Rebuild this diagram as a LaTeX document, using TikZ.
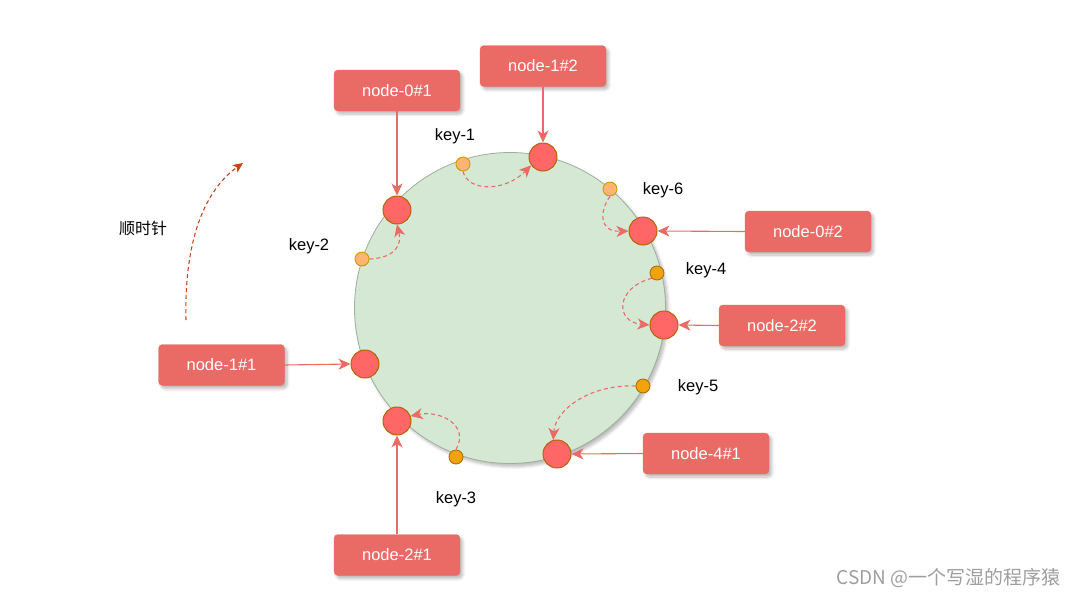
\documentclass[tikz,border=0pt]{standalone}
\usepackage{fontspec}
\setmainfont{Liberation Sans}
\newfontfamily\cjk{Noto Sans CJK SC}
\usetikzlibrary{arrows.meta,shadows.blur}
\definecolor{boxred}{HTML}{EA6B66}
\definecolor{ringfill}{HTML}{D5E8D4}
\definecolor{ringline}{HTML}{9DAE9B}
\definecolor{vnfill}{HTML}{FF6666}
\definecolor{vnline}{HTML}{B46504}
\definecolor{klight}{HTML}{FFB570}
\definecolor{klightline}{HTML}{C8A000}
\definecolor{kdark}{HTML}{F0A30A}
\definecolor{kdarkline}{HTML}{B07000}
\definecolor{cwcol}{HTML}{C9441A}
\tikzset{
  shad/.style={blur shadow={shadow xshift=2.5pt,shadow yshift=-3pt,shadow blur steps=6,shadow opacity=28,shadow blur radius=3pt}},
  hostbox/.style={draw=boxred,fill=boxred,rounded corners=4pt,minimum width=126pt,minimum height=41pt,text=white,font=\fontsize{16.5}{18}\selectfont,inner sep=0pt,shad},
  vnode/.style={circle,draw=vnline,fill=vnfill,line width=1pt,minimum size=28pt,inner sep=0pt},
  keyl/.style={circle,draw=klightline,fill=klight,line width=0.9pt,minimum size=14pt,inner sep=0pt},
  keyd/.style={circle,draw=kdarkline,fill=kdark,line width=0.9pt,minimum size=14pt,inner sep=0pt},
  klabel/.style={font=\fontsize{16.5}{18}\selectfont,text=black},
  solidarr/.style={draw=boxred,line width=1.1pt,-{Stealth[length=12pt,width=11pt,inset=3.5pt]}},
  dasharr/.style={draw=boxred,line width=1.1pt,dash pattern=on 4pt off 3pt,-{Stealth[length=12pt,width=11pt,inset=3.5pt]}},
}
\begin{document}
\begin{tikzpicture}[x=1pt,y=-1pt]
\useasboundingbox (0,0) rectangle (1080,598);
% ring
\node[circle,draw=ringline,fill=ringfill,line width=0.8pt,minimum size=311pt,inner sep=0pt,shad] (ring) at (510,308) {};
% host boxes
\node[hostbox] (n01) at (397,90.5) {node-0\#1};
\node[hostbox] (n12) at (543,66) {node-1\#2};
\node[hostbox] (n02) at (808,231.5) {node-0\#2};
\node[hostbox] (n22) at (782,325.5) {node-2\#2};
\node[hostbox] (n11) at (221.5,365) {node-1\#1};
\node[hostbox] (n41) at (706,453.5) {node-4\#1};
\node[hostbox] (n21) at (397,555) {node-2\#1};
% virtual nodes
\node[vnode] (c01) at (397,210) {};
\node[vnode] (c12) at (543,157) {};
\node[vnode] (c02) at (643,231) {};
\node[vnode] (c22) at (664,325) {};
\node[vnode] (c11) at (365,364) {};
\node[vnode] (c21) at (397,421) {};
\node[vnode] (c41) at (557,454) {};
% keys
\node[keyl] (k1) at (463,164) {};
\node[keyl] (k6) at (610,189) {};
\node[keyl] (k2) at (362,259) {};
\node[keyd] (k4) at (657,273) {};
\node[keyd] (k5) at (643,386) {};
\node[keyd] (k3) at (456,457) {};
% key labels
\node[klabel] (l1) at (455,136) {key-1};
\node[klabel] (l6) at (663,190) {key-6};
\node[klabel] (l2) at (309,246) {key-2};
\node[klabel] (l4) at (706,270) {key-4};
\node[klabel] (l5) at (698,387) {key-5};
\node[klabel] (l3) at (456,499) {key-3};
% solid arrows
\draw[solidarr] (n01.south) -- (c01.north);
\draw[solidarr] (n12.south) -- (c12.north);
\draw[solidarr] (n02.west) -- (c02.east);
\draw[solidarr] (n22.west) -- (c22.east);
\draw[solidarr] (n11.east) -- (c11.west);
\draw[solidarr] (n41.west) -- (c41.east);
\draw[solidarr] (n21.north) -- (c21.south);
% dashed key arrows
\draw[dasharr] (k1.south) .. controls (468,192) and (505,192) .. (c12.215);
\draw[dasharr] (k6.south) .. controls (600,210) and (598,232) .. (c02.west);
\draw[dasharr] (k2.east) .. controls (395,258) and (402,245) .. (c01.south);
\draw[dasharr] (k4.south west) .. controls (615,288) and (615,322) .. (c22.west);
\draw[dasharr] (k5.west) .. controls (590,384) and (555,410) .. (c41.105);
\draw[dasharr] (k3.north) .. controls (470,425) and (440,410) .. (c21.20);
% clockwise arrow
\coordinate (cwa) at (186,320);
\coordinate (cwb) at (243,163);
\draw[draw=cwcol,line width=1.1pt,dash pattern=on 4pt off 3pt,-{Stealth[length=10pt,width=9pt,inset=2.5pt]}] (cwa) .. controls (184,240) and (205,190) .. (cwb);
\node[font=\cjk\fontsize{16}{18}\selectfont] (cw) at (143,228) {顺时针};
% watermark
\node[font=\cjk\fontsize{19}{21}\selectfont,text=black!38,anchor=east] (wm) at (1064,578) {CSDN @一个写湿的程序猿};
\end{tikzpicture}
\end{document}
